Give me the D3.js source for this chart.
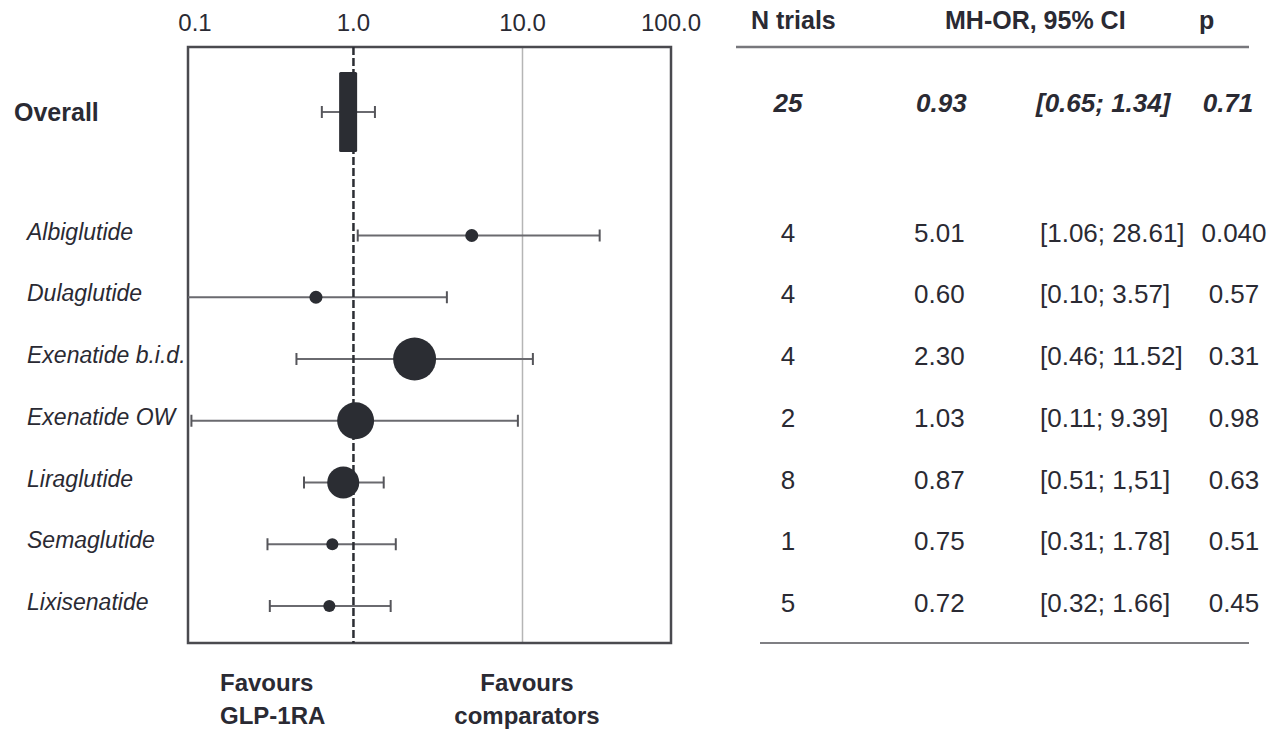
<!DOCTYPE html>
<html lang="en">
<head>
<meta charset="utf-8">
<title>GLP-1RA forest plot</title>
<style>
body{
  margin: 0;
  background: #fff;
}
svg text{
  font-family: "Liberation Sans", Arial, Helvetica, sans-serif;
  fill: #2a2a33;
}
.axis path, .axis line{
  display: none;
}
</style>
<script src="https://d3js.org/d3.v7.min.js"></script>
</head>
<body>
<div id="chart"></div>

<script>
/* values */
var drugs = ['Albiglutide', 'Dulaglutide', 'Exenatide b.i.d.', 'Exenatide OW', 'Liraglutide', 'Semaglutide', 'Lixisenatide'];
var nTrials = [4, 4, 4, 2, 8, 1, 5];
var orValues = [5.01, 0.60, 2.30, 1.03, 0.87, 0.75, 0.72];
var ciLow = [1.06, 0.10, 0.46, 0.11, 0.51, 0.31, 0.32];
var ciHigh = [28.61, 3.57, 11.52, 9.39, 1.51, 1.78, 1.66];
var ciLabels = ['[1.06; 28.61]', '[0.10; 3.57]', '[0.46; 11.52]', '[0.11; 9.39]', '[0.51; 1,51]', '[0.31; 1.78]', '[0.32; 1.66]'];
var pLabels = ['0.040', '0.57', '0.31', '0.98', '0.63', '0.51', '0.45'];
var weights = [3.5, 3.5, 38.0, 28.1, 21.1, 3.0, 3.0];   /* % weight, drives marker area */

var overall = { label: 'Overall', n: 25, or: 0.93, lo: 0.65, hi: 1.34, ci: '[0.65; 1.34]', p: '0.71' };

var tickValues = [0.1, 1, 10, 100];
var tickLabels = ['0.1', '1.0', '10.0', '100.0'];
var xLimits = [0.105, 75.6];
var headers = ['N trials', 'MH-OR, 95% CI', 'p'];

var width = 1273, height = 729;
var box = { left: 188, right: 671, top: 47, bottom: 643 };
var ink = '#2b2d33';

var svg = d3.select('#chart')
  .append('svg')
  .attr('width', width)
  .attr('height', height);

var xScale = d3.scaleLog()
  .domain(xLimits)
  .range([box.left, box.right]);

var rows = ['Overall', 'gap'].concat(drugs);
var yScale = d3.scalePoint()
  .domain(rows)
  .range([112, 606]);

var rScale = d3.scaleSqrt()
  .domain([0, d3.max(weights)])
  .range([0, 21.5]);

var data = drugs.map(function(d, i) {
  return { label: d, n: nTrials[i], or: orValues[i], lo: ciLow[i], hi: ciHigh[i],
           ci: ciLabels[i], p: pLabels[i], w: weights[i] };
});

function clampX(v) {
  return Math.max(box.left, Math.min(box.right, xScale(v)));
}

/* reference line at 10 */
svg.append('line')
  .attr('x1', xScale(10)).attr('x2', xScale(10))
  .attr('y1', box.top).attr('y2', box.bottom)
  .style('stroke', '#b5b5b5')
  .style('stroke-width', 1.5);

/* frame */
svg.append('rect')
  .attr('x', box.left).attr('y', box.top)
  .attr('width', box.right - box.left)
  .attr('height', box.bottom - box.top)
  .style('fill', 'none')
  .style('stroke', '#4a4a4f')
  .style('stroke-width', 2.5);

/* top axis, end labels pulled inside the frame */
var axis = svg.append('g')
  .attr('class', 'axis')
  .attr('transform', 'translate(0,' + 31 + ')')
  .call(d3.axisTop(xScale)
    .tickValues(tickValues)
    .tickSize(0)
    .tickPadding(0)
    .tickFormat(function(d, i) { return tickLabels[i]; }));

axis.selectAll('.tick')
  .attr('transform', function(d) {
    var px = Math.max(box.left + 7, Math.min(box.right, xScale(d)));
    return 'translate(' + px + ',0)';
  });

axis.selectAll('text')
  .attr('dy', 0)
  .style('font-size', '24px')
  .style('fill', '#2a2a33');

/* error bars */
var bars = svg.append('g');

bars.selectAll('line.ci')
  .data(data.concat([overall]))
  .enter()
  .append('line')
  .attr('class', 'ci')
  .attr('x1', function(d) { return clampX(d.lo); })
  .attr('x2', function(d) { return clampX(d.hi); })
  .attr('y1', function(d) { return yScale(d.label); })
  .attr('y2', function(d) { return yScale(d.label); })
  .style('stroke', '#6a6a6f')
  .style('stroke-width', 2);

var caps = [];
data.concat([overall]).forEach(function(d) {
  [d.lo, d.hi].forEach(function(v) {
    if (v >= xLimits[0] && v <= xLimits[1]) caps.push({ label: d.label, v: v });
  });
});

bars.selectAll('line.cap')
  .data(caps)
  .enter()
  .append('line')
  .attr('class', 'cap')
  .attr('x1', function(d) { return xScale(d.v); })
  .attr('x2', function(d) { return xScale(d.v); })
  .attr('y1', function(d) { return yScale(d.label) - 6; })
  .attr('y2', function(d) { return yScale(d.label) + 6; })
  .style('stroke', '#55555a')
  .style('stroke-width', 2);

/* line of no effect */
svg.append('line')
  .attr('x1', xScale(1)).attr('x2', xScale(1))
  .attr('y1', box.top).attr('y2', box.bottom)
  .style('stroke', ink)
  .style('stroke-width', 2.5)
  .style('stroke-dasharray', '8,3');

/* pooled estimate */
svg.append('rect')
  .attr('x', xScale(overall.or) - 9)
  .attr('y', yScale('Overall') - 40)
  .attr('width', 18)
  .attr('height', 80)
  .attr('rx', 1.5)
  .style('fill', ink);

/* per-drug estimates */
svg.selectAll('circle')
  .data(data)
  .enter()
  .append('circle')
  .attr('cx', function(d) { return xScale(d.or); })
  .attr('cy', function(d) { return yScale(d.label); })
  .attr('r', function(d) { return rScale(d.w); })
  .style('fill', ink);

/* row labels */
svg.append('text')
  .attr('x', 14)
  .attr('y', yScale('Overall') + 9)
  .style('font-size', '25px')
  .style('font-weight', 'bold')
  .text(overall.label);

svg.selectAll('text.drug')
  .data(data)
  .enter()
  .append('text')
  .attr('class', 'drug')
  .attr('x', 27)
  .attr('y', function(d) { return yScale(d.label) + 4; })
  .style('font-size', '23px')
  .style('font-style', 'italic')
  .text(function(d) { return d.label; });

/* favours labels */
var fav = svg.append('g')
  .style('font-size', '24px')
  .style('font-weight', 'bold');

fav.append('text').attr('x', 220).attr('y', 691).text('Favours');
fav.append('text').attr('x', 220).attr('y', 724).text('GLP-1RA');
fav.append('text').attr('x', 527).attr('y', 691).attr('text-anchor', 'middle').text('Favours');
fav.append('text').attr('x', 527).attr('y', 724).attr('text-anchor', 'middle').text('comparators');

/* table */
var cols = { n: 788, or: 914, ci: 1040, p: 1234 };

var head = svg.append('g')
  .style('font-size', '25px')
  .style('font-weight', 'bold');

head.selectAll('text')
  .data(headers)
  .enter()
  .append('text')
  .attr('x', function(d, i) { return [751, 945, 1199][i]; })
  .attr('y', 29)
  .text(function(d) { return d; });

svg.append('line')
  .attr('x1', 736).attr('x2', 1249)
  .attr('y1', box.top).attr('y2', box.top)
  .style('stroke', '#77777c')
  .style('stroke-width', 2.5);

svg.append('line')
  .attr('x1', 760).attr('x2', 1249)
  .attr('y1', box.bottom).attr('y2', box.bottom)
  .style('stroke', '#55555a')
  .style('stroke-width', 1.5);

var ov = svg.append('g')
  .style('font-size', '26px')
  .style('font-weight', 'bold')
  .style('font-style', 'italic');

var oy = yScale('Overall');
ov.append('text').attr('x', cols.n).attr('y', oy).attr('text-anchor', 'middle').text(overall.n);
ov.append('text').attr('x', 916).attr('y', oy).text(overall.or.toFixed(2));
ov.append('text').attr('x', 1036).attr('y', oy).text(overall.ci);
ov.append('text').attr('x', 1228).attr('y', oy).attr('text-anchor', 'middle').text(overall.p);

var tbl = svg.append('g')
  .style('font-size', '26px');

var trow = tbl.selectAll('g')
  .data(data)
  .enter()
  .append('g')
  .attr('transform', function(d) { return 'translate(0,' + (yScale(d.label) + 6) + ')'; });

trow.append('text').attr('x', cols.n).attr('text-anchor', 'middle').text(function(d) { return d.n; });
trow.append('text').attr('x', cols.or).text(function(d) { return d.or.toFixed(2); });
trow.append('text').attr('x', cols.ci).text(function(d) { return d.ci; });
trow.append('text').attr('x', cols.p).attr('text-anchor', 'middle').text(function(d) { return d.p; });
</script>
</body>
</html>
